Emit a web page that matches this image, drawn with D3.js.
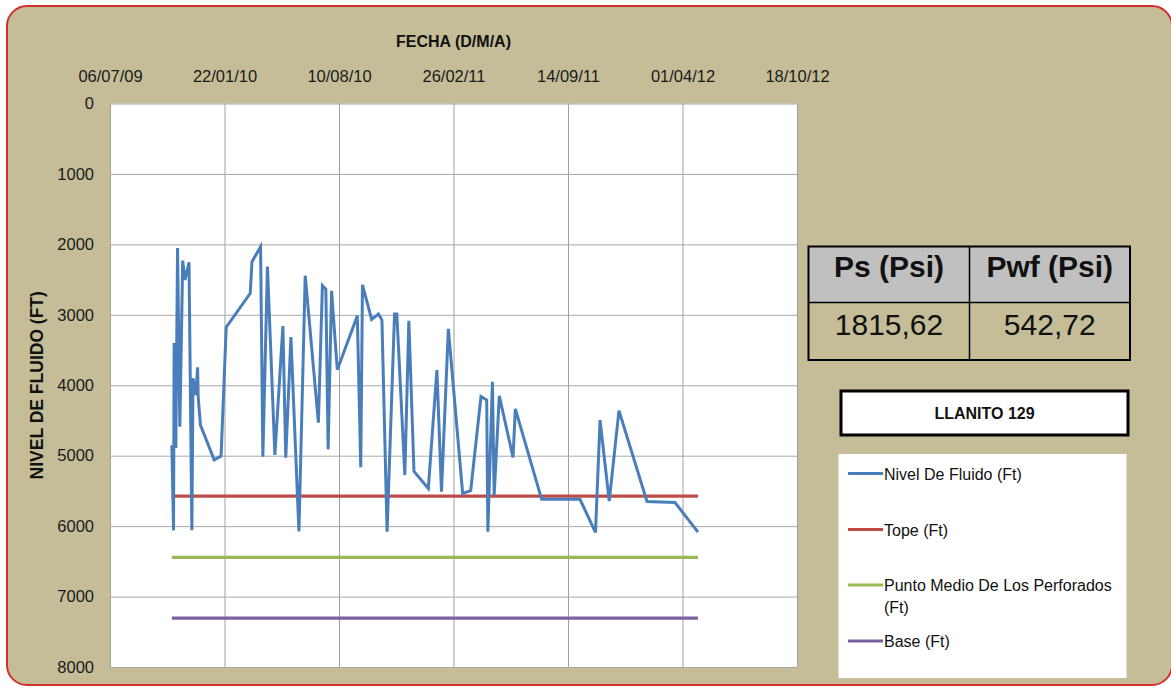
<!DOCTYPE html>
<html>
<head>
<meta charset="utf-8">
<script src="https://cdn.jsdelivr.net/npm/d3@7"></script>
<style>
  body { margin: 0; background: #ffffff; }
  svg { display: block; font-family: "Liberation Sans", Arial, sans-serif; }
</style>
</head>
<body>
<svg id="chart" width="1171" height="686"></svg>
<script>
// Fluid level survey dates (YYYY-MM-DD)
const fechas = [
  "2009-10-22","2009-10-25","2009-10-26","2009-10-29","2009-11-01","2009-11-05",
  "2009-11-10","2009-11-14","2009-11-21","2009-11-26","2009-11-28","2009-12-03",
  "2009-12-06","2009-12-07","2009-12-11","2010-01-04","2010-01-16","2010-01-25",
  "2010-03-08","2010-03-11","2010-03-26","2010-03-30","2010-04-07","2010-04-20",
  "2010-05-04","2010-05-09","2010-05-18","2010-06-01","2010-06-12","2010-07-05",
  "2010-07-12","2010-07-18","2010-07-22","2010-07-28","2010-08-07","2010-09-11",
  "2010-09-17","2010-09-20","2010-10-06","2010-10-18","2010-10-24","2010-11-02",
  "2010-11-15","2010-11-19","2010-12-03","2010-12-10","2010-12-19","2011-01-13",
  "2011-01-28","2011-02-05","2011-02-17","2011-03-14","2011-03-28","2011-04-15",
  "2011-04-25","2011-04-27","2011-05-05","2011-05-08","2011-05-17","2011-06-10",
  "2011-06-14","2011-07-30","2011-10-05","2011-11-01","2011-11-09","2011-11-25",
  "2011-12-12","2012-01-30","2012-03-19","2012-04-28"
];

// Fluid level (ft) measured on each date
const nivelFluido = [
  4850, 6060, 3400, 4890, 2050, 4590,
  2230, 2505, 2255, 6060, 3900, 4140,
  3745, 4160, 4565, 5060, 5005, 3175,
  2695, 2245, 2035, 5015, 2315, 4990,
  3160, 5030, 3315, 6075, 2445, 4530,
  2585, 2635, 4910, 2660, 3780, 3015,
  5165, 2575, 3065, 2990, 3075, 6080,
  2990, 2990, 5275, 3085, 5225, 5465,
  3785, 5510, 3200, 5535, 5495, 4160,
  4210, 6080, 3950, 5560, 4150, 5025,
  4335, 5620, 5620, 6090, 4495, 5645,
  4360, 5650, 5665, 6085
];

// Formation depths (ft), constant over the survey period
const topeFt = 5575;
const puntoMedioFt = 6445;
const baseFt = 7305;

// Axis ticks
const xTickLabels = ["06/07/09","22/01/10","10/08/10","26/02/11","14/09/11","01/04/12","18/10/12"];
const yTickValues = [0, 1000, 2000, 3000, 4000, 5000, 6000, 7000, 8000];

// Pressure table and well name
const tablaEncabezados = ["Ps (Psi)", "Pwf (Psi)"];
const tablaValores = ["1815,62", "542,72"];
const nombrePozo = "LLANITO 129";

// Legend entries
const leyendaNombres = ["Nivel De Fluido (Ft)", "Tope (Ft)", "Punto Medio De Los Perforados (Ft)", "Base (Ft)"];
const leyendaColores = ["#4a7ebb", "#be4b48", "#98b954", "#7d60a0"];

const svg = d3.select("#chart");
const parseISO = d3.utcParse("%Y-%m-%d");
const parseTick = d3.utcParse("%d/%m/%y");
const fmtTick = d3.utcFormat("%d/%m/%y");

const plot = { left: 110, right: 797, top: 103.5, bottom: 667 };
const plotW = plot.right - plot.left;
const plotH = plot.bottom - plot.top;

// Outer chart frame
svg.append("rect")
  .attr("x", 7).attr("y", 6).attr("width", 1165).attr("height", 679)
  .attr("rx", 20).attr("ry", 20)
  .attr("fill", "#c4bd97").attr("stroke", "#d2302c").attr("stroke-width", 2);

const tickDates = xTickLabels.map(parseTick);
const x = d3.scaleUtc().domain([tickDates[0], tickDates[tickDates.length - 1]]).range([plot.left, plot.right]);
const y = d3.scaleLinear().domain([0, 8000]).range([plot.top, plot.bottom]);

// Plot area
svg.append("rect")
  .attr("x", plot.left).attr("y", plot.top).attr("width", plotW).attr("height", plotH)
  .attr("fill", "#ffffff");

// Top date axis with vertical gridlines
const gx = svg.append("g")
  .attr("transform", `translate(0,${plot.top})`)
  .call(d3.axisTop(x).tickValues(tickDates).tickFormat(fmtTick).tickSize(-plotH).tickPadding(21.5));
gx.select(".domain").remove();
gx.selectAll(".tick line").attr("stroke", "#a0a0a0").attr("stroke-width", 1);
gx.selectAll(".tick text").attr("fill", "#1a1a1a").style("font-size", "16.5px")
  .style("font-family", '"Liberation Sans", Arial, sans-serif');

// Left depth axis with horizontal gridlines
const gy = svg.append("g")
  .attr("transform", `translate(${plot.left},0)`)
  .call(d3.axisLeft(y).tickValues(yTickValues).tickFormat(d3.format("d")).tickSize(-plotW).tickPadding(16));
gy.select(".domain").remove();
gy.selectAll(".tick line").attr("stroke", "#a8a8a8").attr("stroke-width", 1);
gy.selectAll(".tick text").attr("fill", "#1a1a1a").style("font-size", "16.5px")
  .style("font-family", '"Liberation Sans", Arial, sans-serif');

// Axis titles
svg.append("text")
  .attr("x", (plot.left + plot.right) / 2).attr("y", 47)
  .attr("text-anchor", "middle").attr("font-weight", "bold").attr("font-size", 16)
  .attr("fill", "#111").text("FECHA (D/M/A)");

svg.append("text")
  .attr("transform", `translate(43,${(plot.top + plot.bottom) / 2}) rotate(-90)`)
  .attr("text-anchor", "middle").attr("font-weight", "bold").attr("font-size", 17.5)
  .attr("fill", "#111").text("NIVEL DE FLUIDO (FT)");

// Series
const dates = fechas.map(parseISO);
const serie = dates.map((d, i) => ({ d, v: nivelFluido[i] }));
const line = d3.line().x(p => x(p.d)).y(p => y(p.v));

const refs = [
  { v: topeFt, color: leyendaColores[1] },
  { v: puntoMedioFt, color: leyendaColores[2] },
  { v: baseFt, color: leyendaColores[3] }
];
refs.forEach(r => {
  svg.append("path")
    .datum(dates.map(d => ({ d, v: r.v })))
    .attr("d", line)
    .attr("fill", "none").attr("stroke", r.color).attr("stroke-width", 3.2);
});

svg.append("path")
  .datum(serie)
  .attr("d", line)
  .attr("fill", "none").attr("stroke", leyendaColores[0]).attr("stroke-width", 3)
  .attr("stroke-linejoin", "miter").attr("stroke-miterlimit", 4);

// Pressure table
const tb = { x: 808.5, y: 246.5, w: 321.5, h: 113.5, colW: 161, headH: 56 };
svg.append("rect").attr("x", tb.x).attr("y", tb.y).attr("width", tb.w).attr("height", tb.headH)
  .attr("fill", "#c0c0c0");
svg.append("rect").attr("x", tb.x).attr("y", tb.y).attr("width", tb.w).attr("height", tb.h)
  .attr("fill", "none").attr("stroke", "#000").attr("stroke-width", 2);
svg.append("line").attr("x1", tb.x).attr("x2", tb.x + tb.w).attr("y1", tb.y + tb.headH).attr("y2", tb.y + tb.headH)
  .attr("stroke", "#000").attr("stroke-width", 1.5);
svg.append("line").attr("x1", tb.x + tb.colW).attr("x2", tb.x + tb.colW).attr("y1", tb.y).attr("y2", tb.y + tb.h)
  .attr("stroke", "#000").attr("stroke-width", 1.5);
tablaEncabezados.forEach((t, i) => {
  const cx = i === 0 ? tb.x + tb.colW / 2 : tb.x + tb.colW + (tb.w - tb.colW) / 2;
  svg.append("text").attr("x", cx).attr("y", 277).attr("text-anchor", "middle")
    .attr("font-weight", "bold").attr("font-size", 30).attr("fill", "#111").text(t);
  svg.append("text").attr("x", cx).attr("y", 335).attr("text-anchor", "middle")
    .attr("font-size", 30).attr("fill", "#111").text(tablaValores[i]);
});

// Well name box
svg.append("rect").attr("x", 841).attr("y", 391).attr("width", 287).attr("height", 44)
  .attr("fill", "#ffffff").attr("stroke", "#000").attr("stroke-width", 3);
svg.append("text").attr("x", 984.5).attr("y", 419).attr("text-anchor", "middle")
  .attr("font-weight", "bold").attr("font-size", 16).attr("fill", "#111").text(nombrePozo);

// Legend
svg.append("rect").attr("x", 838.5).attr("y", 454).attr("width", 288).attr("height", 224)
  .attr("fill", "#ffffff");
const legY = [473.5, 529.5, 585, 641];
leyendaNombres.forEach((name, i) => {
  svg.append("line").attr("x1", 848).attr("x2", 883).attr("y1", legY[i]).attr("y2", legY[i])
    .attr("stroke", leyendaColores[i]).attr("stroke-width", 3);
  const t = svg.append("text").attr("x", 884).attr("y", legY[i] + 6)
    .attr("font-size", 16).attr("fill", "#111");
  const words = name.split(" ");
  let lineWords = [];
  let tspan = t.append("tspan").attr("x", 884);
  words.forEach(w => {
    lineWords.push(w);
    tspan.text(lineWords.join(" "));
    if (tspan.node().getComputedTextLength() > 236 && lineWords.length > 1) {
      lineWords.pop();
      tspan.text(lineWords.join(" "));
      lineWords = [w];
      tspan = t.append("tspan").attr("x", 884).attr("dy", 21.5).text(w);
    }
  });
});
</script>
</body>
</html>
